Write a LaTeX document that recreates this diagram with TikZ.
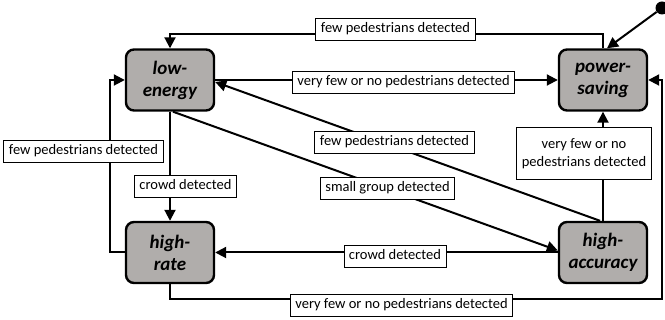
\documentclass[tikz,border=0pt]{standalone}
\usepackage{fontspec}
\setmainfont{Carlito}
\usetikzlibrary{arrows.meta}
\definecolor{stategray}{RGB}{176,173,171}
\begin{document}
\begin{tikzpicture}[x=1pt,y=-1pt,
  state/.style={draw, line width=2.4pt, rounded corners=8pt, fill=stategray,
    minimum width=88pt, minimum height=61pt, inner sep=0pt, align=center,
    font=\fontsize{19}{22}\selectfont\bfseries\itshape},
  edge/.style={line width=2pt, -{Triangle[length=11pt,width=11pt]}},
  lab/.style={draw, line width=0.9pt, fill=white,
    font=\fontsize{14.5}{17.5}\selectfont, inner xsep=5pt, inner ysep=0pt,
    minimum height=22pt, text height=10.5pt, text depth=3.5pt},
  labtwo/.style={draw, line width=0.9pt, fill=white, align=center,
    font=\fontsize{14.5}{17.5}\selectfont, inner xsep=5pt, inner ysep=0pt,
    minimum height=52pt}]
\useasboundingbox (0,0) rectangle (665,320);

\node[state] (le) at (170,80) {low-\\energy};
\node[state] (ps) at (603,80) {power-\\saving};
\node[state] (hr) at (170,252.5) {high-\\rate};
\node[state] (ha) at (603,252.5) {high-\\accuracy};
\node[circle, fill, inner sep=0pt, minimum size=13pt] (init) at (662,8) {};

% edges
\draw[edge] (init) -- ([xshift=4pt]ps.north);
\draw[edge] (ps.north) -- ++(0,-14) -| (le.north);
\draw[edge] (le.east) -- (ps.west);
\draw[edge] ([xshift=-3pt]ha.north) -- ([yshift=-2pt]le.east);
\draw[edge] ([xshift=3pt]le.south) -- ([yshift=2pt]ha.west);
\draw[edge] (le.south) -- (hr.north);
\draw[edge] (hr.west) -- ++(-15,0) |- (le.west);
\draw[edge] (ha.west) -- (hr.east);
\draw[edge] (hr.south) -- ++(0,15) -| ([xshift=14pt]ps.east) -- (ps.east);
\draw[edge] (ha.north) -- (ps.south);

% labels
\node[lab] (l1) at (395.5,29.5) {few pedestrians detected};
\node[lab] (l3) at (403.5,82) {very few or no pedestrians detected};
\node[lab] (l4) at (394.5,142.5) {few pedestrians detected};
\node[lab] (l5) at (387.5,188.5) {small group detected};
\node[lab] (l6) at (185.5,186) {crowd detected};
\node[lab] (l7) at (83.5,151) {few pedestrians detected};
\node[lab] (l8) at (395,256) {crowd detected};
\node[lab] (l9) at (401.5,305.5) {very few or no pedestrians detected};
\node[labtwo] (l10) at (584,153.5) {very few or no\\pedestrians detected};
\end{tikzpicture}
\end{document}
